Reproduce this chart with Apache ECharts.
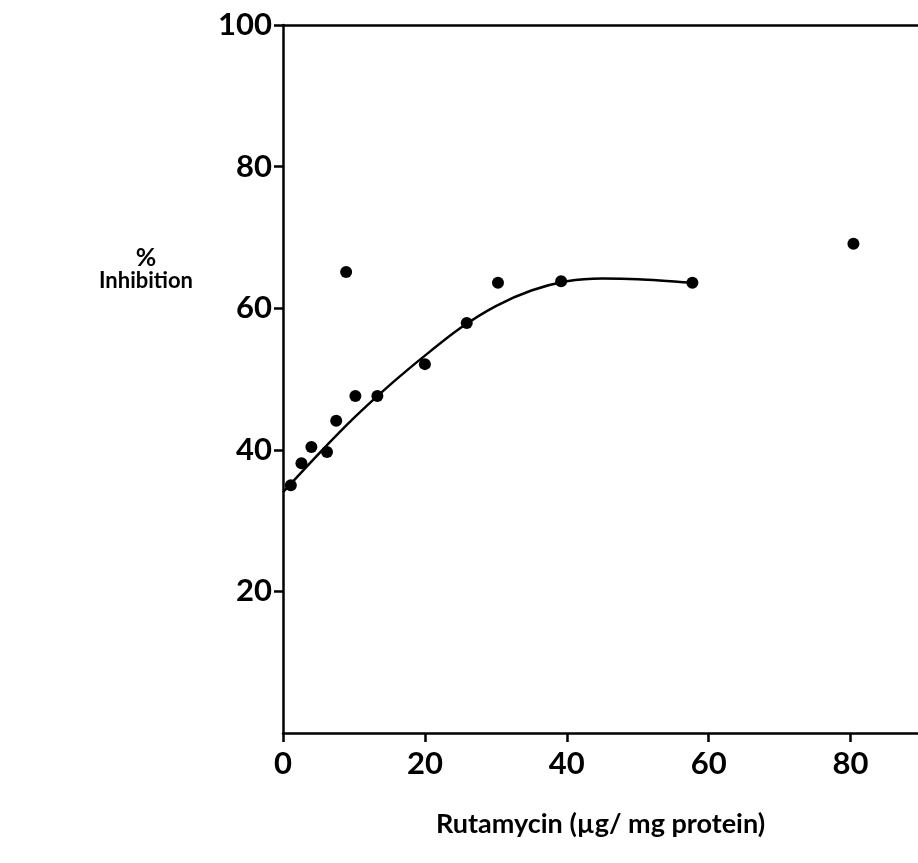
<!DOCTYPE html>
<html>
<head>
<meta charset="utf-8">
<title>Rutamycin inhibition</title>
<script src="https://cdn.jsdelivr.net/npm/echarts@6/dist/echarts.min.js"></script>
<style>
  html, body { margin: 0; padding: 0; background: #fff; }
  #chart { width: 918px; height: 863px; }
</style>
</head>
<body>
<div id="chart"></div>
<script>
// Measured points: rutamycin dose (µg/mg protein) vs % inhibition
const doseValues = [1.1, 2.6, 4.0, 6.2, 7.5, 8.9, 10.2, 13.3, 20.0, 25.9, 30.3, 39.2, 57.7, 80.4];
const inhibitionValues = [35.0, 38.1, 40.4, 39.7, 44.1, 65.1, 47.6, 47.6, 52.1, 57.9, 63.6, 63.8, 63.6, 69.1];

// Hand-drawn trend curve through the data, read at even dose steps
const curveDose = [0, 5, 10, 15, 20, 25, 30, 35, 40, 45, 50, 57.7];
const curveInhibition = [34.0, 39.4, 44.5, 49.1, 53.3, 57.2, 60.3, 62.5, 63.8, 64.2, 64.1, 63.6];

// Axis ticks
const xTicks = [0, 20, 40, 60, 80];
const yTicks = [20, 40, 60, 80, 100];

const ink = '#000';
const font = 'Lato';

const chart = echarts.init(document.getElementById('chart'), null, { renderer: 'canvas' });

chart.setOption({
  backgroundColor: '#fff',
  animation: false,
  title: [{
    text: '{p|%}\nInhibition',
    left: 141,
    top: 241,
    textAlign: 'center',
    textStyle: {
      fontFamily: font, fontSize: 22, fontWeight: 'bold', color: ink,
      lineHeight: 22, letterSpacing: 1.5,
      rich: { p: { fontFamily: font, fontSize: 25, fontWeight: 'bold', color: ink, lineHeight: 24 } }
    }
  }],
  grid: { left: 283, right: 0, top: 25, bottom: 130, containLabel: false },
  xAxis: [{
    type: 'value',
    min: 0,
    max: 89.5,
    interval: 20,
    position: 'bottom',
    splitLine: { show: false },
    axisLine: { show: true, onZero: false, lineStyle: { color: ink, width: 2.5 } },
    axisTick: { show: true, customValues: xTicks, length: 9, inside: false, lineStyle: { color: ink, width: 2.5 } },
    axisLabel: {
      customValues: xTicks, margin: 15,
      fontFamily: font, fontSize: 31, fontWeight: 'bold', color: ink
    },
    name: 'Rutamycin (µg/ mg protein)',
    nameLocation: 'middle',
    nameGap: 78,
    nameTextStyle: { fontFamily: font, fontSize: 27, fontWeight: 'bold', color: ink, letterSpacing: 2.2 }
  }, {
    type: 'value',
    min: 0,
    max: 89.5,
    position: 'top',
    splitLine: { show: false },
    axisLine: { show: true, onZero: false, lineStyle: { color: ink, width: 2.5 } },
    axisTick: { show: false },
    axisLabel: { show: false }
  }],
  yAxis: [{
    type: 'value',
    min: 0,
    max: 100,
    interval: 20,
    splitLine: { show: false },
    axisLine: { show: true, onZero: false, lineStyle: { color: ink, width: 2.5 } },
    axisTick: { show: true, customValues: yTicks, length: 9, lineStyle: { color: ink, width: 2.5 } },
    axisLabel: {
      customValues: yTicks, margin: 11,
      fontFamily: font, fontSize: 31, fontWeight: 'bold', color: ink
    }
  }],
  series: [{
    name: 'trend',
    type: 'line',
    data: curveDose.map((d, i) => [d, curveInhibition[i]]),
    smooth: 0.3,
    showSymbol: false,
    lineStyle: { color: ink, width: 2.5 },
    z: 2
  }, {
    name: 'inhibition',
    type: 'scatter',
    data: doseValues.map((d, i) => [d, inhibitionValues[i]]),
    symbol: 'circle',
    symbolSize: 12,
    itemStyle: { color: ink, opacity: 1 },
    z: 3
  }]
});
</script>
</body>
</html>
